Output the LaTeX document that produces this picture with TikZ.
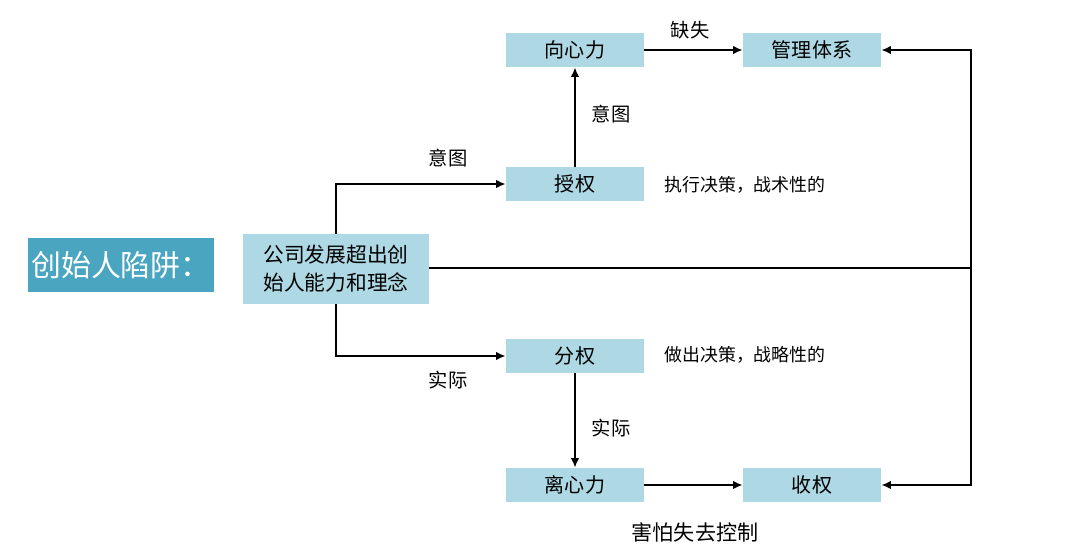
\documentclass[tikz,border=0pt]{standalone}
\usepackage{fontspec}
\setmainfont{Noto Sans CJK SC}
\usetikzlibrary{arrows.meta}
\definecolor{ftLight}{HTML}{ADD8E4}
\definecolor{ftTeal}{HTML}{4AA6C0}
\tikzset{
  ft box/.style={fill=ftLight, minimum width=2.76cm, minimum height=0.68cm, inner sep=0pt, font=\fontsize{11.4}{13}\selectfont},
  ft main/.style={fill=ftLight, minimum width=3.72cm, minimum height=1.4cm, inner sep=0pt, align=center, font=\fontsize{11.8}{16}\selectfont},
  ft title/.style={fill=ftTeal, minimum width=3.72cm, minimum height=1.08cm, inner sep=0pt, text=white, font=\fontsize{17}{20}\selectfont},
  ft line/.style={draw=black, line width=1.1pt},
  ft arrow/.style={ft line, -{Latex[length=1.9mm,width=1.7mm]}},
  ft label/.style={font=\fontsize{11}{13}\selectfont, inner sep=0pt},
  ft note/.style={font=\fontsize{10.2}{12}\selectfont, inner sep=0pt, anchor=west},
}

\begin{document}
\begin{tikzpicture}[x=0.02cm,y=-0.02cm]
  \useasboundingbox[fill=white] (0,0) rectangle (1080,552);

  \node[ft title] (trap) at (121,265) {创始人陷阱：};
  \node[ft main] (main) at (336,269) {公司发展超出创\\始人能力和理念};

  \node[ft box] (pull) at (575,50) {向心力};
  \node[ft box] (mgmt) at (812,50) {管理体系};
  \node[ft box] (auth) at (575,184) {授权};
  \node[ft box] (dele) at (575,356) {分权};
  \node[ft box] (push) at (575,485) {离心力};
  \node[ft box] (back) at (812,485) {收权};

  \coordinate (jn) at (971,268);

  % upper branch
  \draw[ft arrow] (main.north) |- (auth.west);
  \draw[ft arrow] (auth.north) -- (pull.south);
  \draw[ft arrow] (pull.east) -- (mgmt.west);
  % lower branch
  \draw[ft arrow] (main.south) |- (dele.west);
  \draw[ft arrow] (dele.south) -- (push.north);
  \draw[ft arrow] (push.east) -- (back.west);
  % right feedback
  \draw[ft line] (main.east |- jn) -- (jn);
  \draw[ft arrow] (jn) |- (mgmt.east);
  \draw[ft arrow] (jn) |- (back.east);

  \node[ft label] (l1) at (448,158) {意图};
  \node[ft label] (l2) at (611,114) {意图};
  \node[ft label] (l3) at (690,30) {缺失};
  \node[ft label] (l4) at (448,380) {实际};
  \node[ft label] (l5) at (611,428) {实际};
  \node[ft label, font=\fontsize{12}{14}\selectfont] (l6) at (695,532) {害怕失去控制};
  \node[ft note] (n1) at (664,185) {执行决策，战术性的};
  \node[ft note] (n2) at (664,355) {做出决策，战略性的};
\end{tikzpicture}
\end{document}
